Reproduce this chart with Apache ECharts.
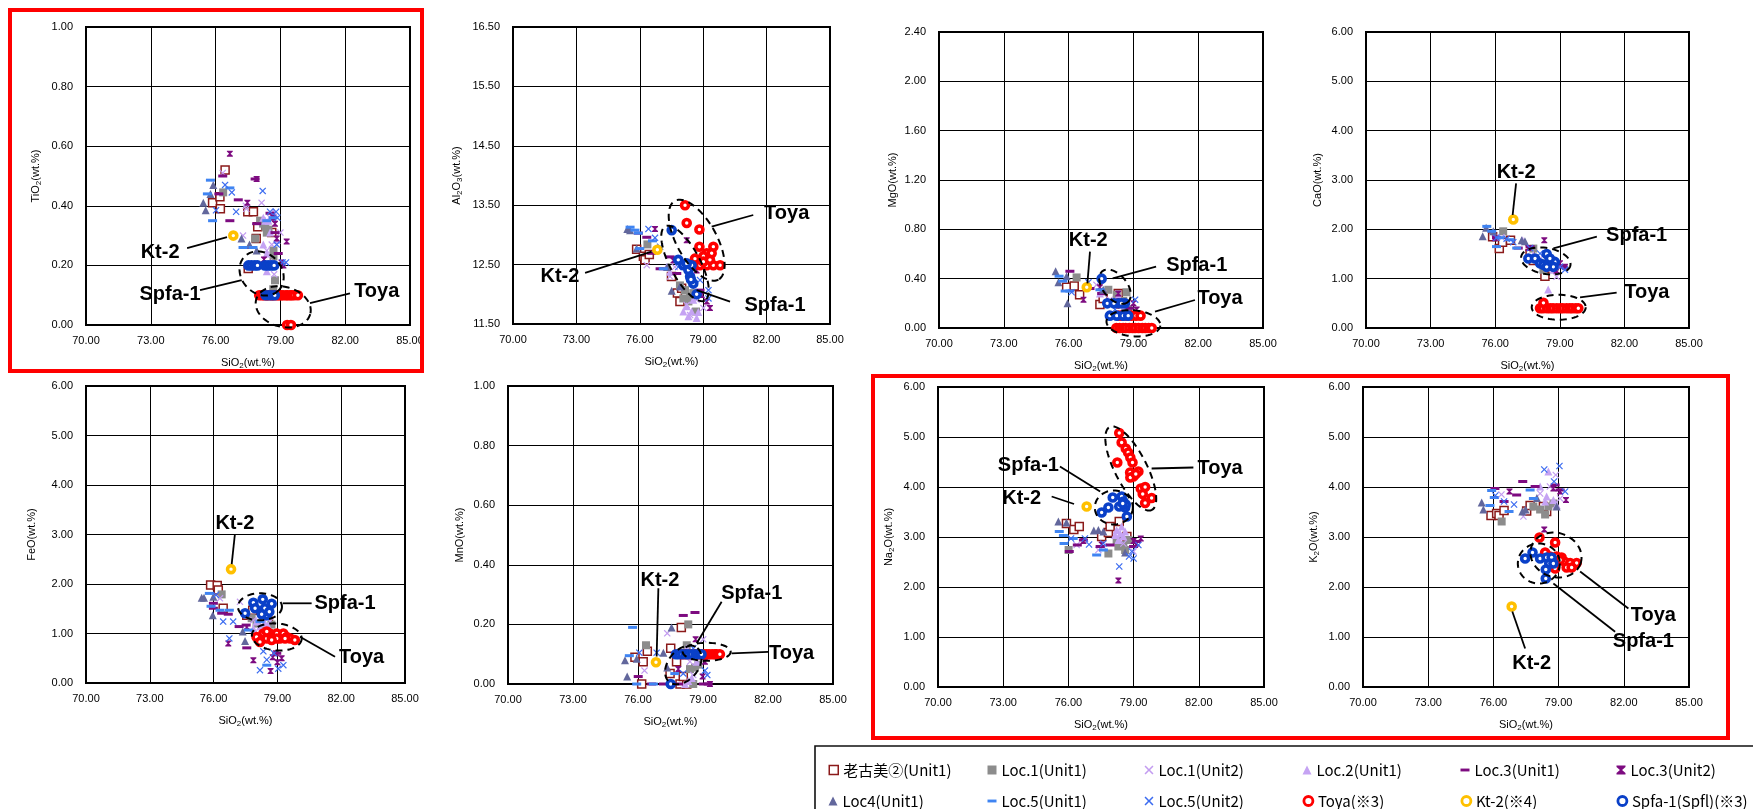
<!DOCTYPE html>
<html><head><meta charset="utf-8">
<script src="https://cdn.jsdelivr.net/npm/echarts@6/dist/echarts.min.js"></script>
<style>html,body{margin:0;padding:0;background:#fff}#c{width:1753px;height:809px}</style>
</head><body><div id="c"></div><script>
// ---------------- DATA (SiO2 wt.%, oxide wt.%) ----------------
// TiO2
const okomi_Ti=[[76.44,0.52],[75.86,0.41],[76.20,0.43],[76.22,0.39],[77.49,0.38],[77.75,0.38],[77.95,0.33],[78.60,0.31],[77.88,0.29],[77.51,0.19]];
const l1u1_Ti=[[76.35,0.445],[78.06,0.35],[78.30,0.33],[78.37,0.31],[77.83,0.29],[78.68,0.25],[78.68,0.23],[78.75,0.15],[78.67,0.12],[78.45,0.32],[78.20,0.34]];
const l1u2_Ti=[[76.33,0.51],[77.27,0.30],[77.42,0.39],[78.13,0.41],[78.52,0.36],[78.71,0.17],[78.60,0.27],[78.37,0.25],[79.00,0.31],[77.40,0.40]];
const l2u1_Ti=[[78.21,0.36],[78.45,0.35],[78.68,0.38],[78.37,0.24],[78.37,0.18],[78.60,0.21],[78.83,0.285],[78.52,0.31],[78.21,0.27],[78.30,0.35]];
const l3u1_Ti=[[76.33,0.50],[76.66,0.35],[77.05,0.42],[77.83,0.49],[78.52,0.375],[78.75,0.31],[78.90,0.24],[77.90,0.34],[77.35,0.26],[76.15,0.44]];
const l3u2_Ti=[[76.66,0.575],[77.90,0.49],[77.47,0.41],[78.67,0.36],[78.75,0.34],[79.05,0.21],[79.29,0.28],[78.24,0.22],[79.14,0.20],[78.83,0.29]];
const l4u1_Ti=[[75.43,0.41],[75.54,0.385],[75.89,0.47],[75.76,0.44],[77.20,0.29],[77.57,0.27],[77.90,0.25]];
const l5u1_Ti=[[75.76,0.486],[75.86,0.35],[75.62,0.44],[76.66,0.46],[77.27,0.26],[77.73,0.26],[78.37,0.35],[78.67,0.36]];
const l5u2_Ti=[[76.02,0.385],[76.44,0.47],[76.75,0.445],[76.95,0.38],[78.18,0.45],[78.52,0.38],[78.80,0.38],[78.83,0.27],[79.10,0.21],[79.26,0.21],[78.86,0.36]];
const toya_Ti=[[78.02,0.10],[78.15,0.10],[78.24,0.10],[78.36,0.10],[78.41,0.10],[78.55,0.10],[78.63,0.10],[78.72,0.10],[78.85,0.10],[78.93,0.10],[79.04,0.10],[79.12,0.10],[79.26,0.10],[79.33,0.10],[79.45,0.10],[79.52,0.10],[79.64,0.10],[79.81,0.10],[79.31,0.0],[79.49,0.0]];
const kt2_Ti=[[76.82,0.30]];
const spfa_Ti=[[77.52,0.20],[77.66,0.20],[77.81,0.20],[77.94,0.20],[78.28,0.20],[78.43,0.20],[78.57,0.20],[78.71,0.20],[78.31,0.10],[78.46,0.10],[78.60,0.10],[78.74,0.10]];
// Al2O3
const okomi_Al=[[75.85,12.76],[76.17,12.64],[76.25,12.58],[76.45,12.67],[77.78,12.02],[77.90,11.88],[77.98,12.10],[77.50,12.30]];
const l1u1_Al=[[76.36,12.84],[77.90,12.15],[78.14,12.07],[78.38,11.96],[78.66,11.71],[78.30,11.88],[78.53,12.02],[78.06,11.93]];
const l1u2_Al=[[76.33,12.49],[77.43,12.30],[77.66,12.46],[78.22,11.82],[78.69,11.91],[78.38,11.65],[79.01,11.77]];
const l2u1_Al=[[78.22,11.80],[78.45,11.71],[78.69,11.60],[78.06,11.71],[78.53,11.91],[78.30,11.63],[78.77,11.70],[77.27,12.46],[77.43,12.38]];
const l3u1_Al=[[76.33,12.96],[75.93,13.03],[76.96,12.43],[77.75,12.35],[77.43,12.63],[78.85,12.07],[76.56,12.69]];
const l3u2_Al=[[76.72,13.10],[78.22,12.91],[77.59,12.57],[78.69,12.40],[78.93,11.99],[79.32,11.77],[79.17,11.88]];
const l4u1_Al=[[75.41,13.10],[75.54,13.08],[75.85,12.77],[77.51,12.06],[77.90,12.13],[77.30,12.46]];
const l5u1_Al=[[75.54,13.13],[75.77,13.08],[75.93,13.03],[76.00,12.77],[77.11,12.43],[76.60,12.90]];
const l5u2_Al=[[76.41,13.10],[76.72,12.95],[76.96,12.80],[77.82,12.46],[78.38,12.35],[79.25,12.07],[79.25,11.93],[78.85,12.24]];
const toya_Al=[[78.14,13.50],[78.22,13.20],[78.82,13.09],[78.82,12.80],[79.48,12.80],[79.17,12.69],[79.01,12.64],[79.40,12.69],[78.61,12.60],[78.85,12.49],[79.17,12.49],[79.48,12.49],[79.80,12.49],[79.01,12.55],[79.32,12.58]];
const kt2_Al=[[76.83,12.75]];
const spfa_Al=[[77.51,13.08],[77.82,12.58],[78.06,12.49],[78.30,12.41],[78.38,12.30],[78.53,12.18],[78.69,12.00],[78.45,12.49],[78.22,12.52],[78.42,12.25]];
// MgO
const okomi_Mg=[[75.91,0.33],[76.26,0.34],[76.51,0.27],[77.45,0.19],[78.30,0.28],[77.60,0.24]];
const l1u1_Mg=[[76.37,0.41],[77.84,0.31],[78.23,0.27],[78.68,0.29],[78.76,0.15],[78.53,0.22]];
const l1u2_Mg=[[77.29,0.35],[77.91,0.23],[77.60,0.28],[78.53,0.16]];
const l2u1_Mg=[[77.45,0.28],[78.07,0.21],[78.30,0.26],[78.68,0.18]];
const l3u1_Mg=[[76.06,0.46],[76.99,0.32],[77.53,0.28],[78.23,0.21],[78.84,0.16]];
const l3u2_Mg=[[76.69,0.23],[77.45,0.33],[78.30,0.28],[79.00,0.20],[79.15,0.15]];
const l4u1_Mg=[[75.40,0.46],[75.53,0.37],[75.95,0.20],[75.91,0.42],[77.60,0.31]];
const l5u1_Mg=[[75.56,0.42],[75.73,0.38],[75.84,0.30],[76.06,0.30],[77.45,0.31]];
const l5u2_Mg=[[76.14,0.29],[76.92,0.37],[79.08,0.23],[78.15,0.15],[77.91,0.21]];
const toya_Mg=[[78.32,0.10],[78.47,0.10],[78.68,0.10],[78.91,0.10],[79.12,0.10],[79.33,0.10],[78.30,0.20],[78.21,0.0],[78.36,0.0],[78.52,0.0],[78.64,0.0],[78.81,0.0],[78.96,0.0],[79.08,0.0],[79.24,0.0],[79.41,0.0],[79.55,0.0],[79.71,0.0],[79.85,0.0]];
const kt2_Mg=[[76.84,0.33]];
const spfa_Mg=[[77.53,0.40],[77.79,0.20],[78.30,0.20],[78.61,0.20],[78.45,0.20],[77.91,0.10],[78.23,0.10],[78.53,0.10],[78.76,0.10],[78.10,0.20]];
// CaO
const okomi_Ca=[[75.88,1.85],[76.19,1.61],[76.34,1.74],[76.71,1.78],[77.62,1.51],[78.31,1.05],[77.77,1.37]];
const l1u1_Ca=[[76.37,1.96],[77.77,1.61],[78.24,1.18],[78.39,1.31],[78.77,1.24]];
const l1u2_Ca=[[76.29,1.84],[77.62,1.62],[78.08,1.41],[78.85,1.04],[78.70,1.24]];
const l2u1_Ca=[[77.27,1.78],[78.46,0.78],[77.77,1.48],[78.24,1.31],[78.70,1.18]];
const l3u1_Ca=[[76.06,1.83],[77.07,1.62],[77.62,1.65],[78.62,1.41],[79.16,1.24]];
const l3u2_Ca=[[75.98,1.82],[78.28,1.78],[77.54,1.62],[79.01,1.31],[79.24,1.24],[78.85,1.16]];
const l4u1_Ca=[[75.42,1.86],[75.58,2.03],[77.23,1.78],[77.38,1.76],[75.91,1.96]];
const l5u1_Ca=[[75.61,2.06],[75.84,1.96],[76.06,1.65],[76.22,1.83],[76.69,1.79],[77.00,1.62]];
const l5u2_Ca=[[76.06,1.83],[76.53,1.81],[76.84,1.74],[77.62,1.62],[79.24,1.18],[79.01,1.24],[78.08,1.51]];
const toya_Ca=[[78.08,0.40],[78.22,0.40],[78.41,0.40],[78.56,0.40],[78.69,0.40],[78.86,0.40],[79.02,0.40],[79.14,0.40],[79.31,0.40],[79.46,0.40],[79.58,0.40],[79.74,0.40],[79.86,0.40],[78.24,0.51]];
const kt2_Ca=[[76.84,2.20]];
const spfa_Ca=[[77.54,1.41],[77.85,1.41],[78.39,1.50],[78.08,1.31],[78.24,1.28],[78.46,1.31],[78.62,1.31],[78.77,1.34],[78.70,1.24],[78.39,1.24],[78.54,1.41]];
// FeO
const okomi_Fe=[[75.86,1.98],[76.17,1.97],[76.22,1.88],[76.45,1.51],[77.56,1.37],[77.84,1.47],[78.58,1.25]];
const l1u1_Fe=[[76.38,1.79],[78.02,1.20],[78.72,1.18],[78.34,1.10],[77.79,1.31]];
const l1u2_Fe=[[76.30,1.71],[77.24,1.64],[77.87,1.27],[78.34,1.21],[78.65,1.24]];
const l2u1_Fe=[[78.02,1.24],[78.18,1.14],[78.41,1.21],[77.87,1.10],[78.58,1.14]];
const l3u1_Fe=[[75.99,1.61],[75.99,1.51],[76.38,1.41],[76.69,1.39],[77.53,1.17],[77.56,0.71],[77.20,1.14],[78.97,0.60]];
const l3u2_Fe=[[76.69,0.80],[77.87,0.46],[78.68,0.24],[78.93,0.60],[79.20,0.50],[79.00,0.42],[78.78,0.52],[77.56,1.13]];
const l4u1_Fe=[[75.44,1.72],[75.55,1.72],[75.96,1.37],[77.37,1.04],[77.48,0.85],[75.99,1.74]];
const l5u1_Fe=[[75.80,1.81],[75.88,1.55],[76.30,1.47],[76.74,1.47],[77.64,1.07],[78.50,0.36],[78.18,1.24]];
const l5u2_Fe=[[76.11,1.78],[76.45,1.24],[76.92,1.24],[76.74,0.90],[78.34,0.64],[78.50,0.47],[78.18,0.26],[79.04,0.29],[79.28,0.36],[78.84,0.60]];
const toya_Fe=[[78.02,0.93],[78.18,0.83],[78.34,1.00],[78.50,0.90],[78.65,1.00],[78.81,0.93],[78.97,1.00],[79.12,0.90],[79.28,1.00],[79.44,0.93],[79.60,0.90],[79.82,0.87],[78.50,1.04],[78.97,0.90],[79.36,0.90],[78.73,0.87]];
const kt2_Fe=[[76.82,2.30]];
const spfa_Fe=[[77.48,1.41],[77.87,1.62],[77.95,1.51],[78.31,1.69],[78.41,1.51],[78.50,1.37],[78.73,1.60],[78.62,1.44],[78.26,1.39]];
// MnO
const okomi_Mn=[[78.00,0.19],[75.86,0.09],[76.43,0.11],[76.24,0.075],[76.17,0.0],[77.51,0.12],[77.78,0.075],[77.48,0.035],[77.94,0.0],[78.25,0.0],[78.09,0.025]];
const l1u1_Mn=[[76.37,0.13],[78.32,0.20],[78.40,0.05],[78.63,0.055],[78.55,0.0],[78.79,0.065],[78.25,0.13]];
const l1u2_Mn=[[77.35,0.17],[76.30,0.045],[78.40,0.075],[79.01,0.15],[78.55,0.03]];
const l2u1_Mn=[[78.25,0.12],[78.32,0.01],[78.48,0.02],[78.71,0.075],[78.17,0.0]];
const l3u1_Mn=[[78.09,0.23],[78.63,0.24],[76.01,0.025],[76.63,0.0],[77.17,0.0],[77.86,0.0],[79.01,0.0],[79.24,0.0]];
const l3u2_Mn=[[78.66,0.15],[77.86,0.05],[78.98,0.025],[79.09,0.075],[79.32,0.0]];
const l4u1_Mn=[[75.40,0.08],[75.50,0.025],[75.94,0.085],[77.17,0.105],[77.55,0.19],[77.35,0.055]];
const l5u1_Mn=[[75.75,0.19],[75.60,0.095],[76.71,0.0],[77.70,0.035],[75.94,0.0]];
const l5u2_Mn=[[76.06,0.105],[76.86,0.105],[78.09,0.035],[79.09,0.045],[79.20,0.03],[78.55,0.12]];
const toya_Mn=[[78.02,0.10],[78.18,0.10],[78.41,0.10],[78.62,0.10],[78.79,0.10],[78.93,0.10],[79.04,0.10],[79.16,0.10],[79.28,0.10],[79.42,0.10],[79.55,0.10],[79.63,0.10],[79.78,0.10]];
const kt2_Mn=[[76.83,0.073]];
const spfa_Mn=[[77.75,0.10],[77.88,0.10],[78.04,0.10],[78.21,0.10],[78.33,0.10],[78.49,0.10],[78.66,0.10],[78.80,0.10],[78.93,0.10],[77.51,0.0]];
// Na2O
const okomi_Na=[[75.91,3.27],[76.25,3.15],[76.50,3.21],[77.53,3.01],[77.84,3.09],[77.92,3.21],[78.34,3.31],[78.69,3.01]];
const l1u1_Na=[[76.01,2.74],[77.84,2.67],[78.30,2.81],[78.53,2.84],[78.76,2.94],[78.61,2.74],[78.22,2.94]];
const l1u2_Na=[[76.38,2.84],[77.38,2.74],[77.61,2.81],[78.53,2.87],[79.00,2.71]];
const l2u1_Na=[[78.22,3.14],[78.38,3.07],[78.45,3.21],[78.53,3.01],[78.30,2.94],[78.15,3.04],[78.61,3.11]];
const l3u1_Na=[[76.04,2.71],[76.41,2.84],[76.69,2.94],[77.46,2.81],[77.92,2.84],[79.00,2.81],[79.14,2.91]];
const l3u2_Na=[[76.69,2.92],[77.53,2.85],[78.30,2.13],[79.00,2.92],[79.33,2.97],[79.14,2.87]];
const l4u1_Na=[[75.54,3.31],[75.91,3.29],[77.17,3.13],[77.38,3.14],[78.61,2.69],[77.61,3.11]];
const l5u1_Na=[[75.58,3.11],[75.77,3.03],[75.80,2.87],[77.30,2.64],[77.61,2.74],[76.22,2.97]];
const l5u2_Na=[[76.12,2.97],[76.76,2.97],[76.95,2.85],[77.61,2.87],[78.34,2.41],[78.79,2.61],[79.00,2.57],[79.22,2.84],[78.92,2.71]];
const toya_Na=[[78.34,5.08],[78.45,4.89],[78.64,4.77],[78.75,4.69],[78.85,4.59],[78.95,4.49],[78.25,4.49],[78.84,4.29],[78.99,4.21],[79.22,4.31],[79.33,3.97],[79.53,4.00],[79.42,3.86],[79.83,3.78],[79.53,3.68],[78.85,4.19],[79.10,4.26]];
const kt2_Na=[[76.84,3.61]];
const spfa_Na=[[77.53,3.49],[77.84,3.59],[78.04,3.79],[78.45,3.81],[78.34,3.61],[78.53,3.71],[78.61,3.59],[78.69,3.41],[78.64,3.65],[78.50,3.67]];
// K2O
const okomi_K=[[75.89,3.43],[76.15,3.47],[76.26,3.43],[76.49,3.53],[77.53,3.52],[77.69,3.63],[78.45,3.51],[78.30,3.61]];
const l1u1_K=[[76.38,3.31],[78.38,3.45],[78.15,3.55],[78.53,3.61],[78.76,3.67],[77.84,3.61]];
const l1u2_K=[[76.37,3.85],[77.38,3.41],[78.87,4.24],[78.60,4.01],[78.15,3.87],[79.07,3.77]];
const l2u1_K=[[78.53,4.31],[78.15,4.01],[78.45,3.81],[78.76,3.74],[78.38,3.71],[78.91,3.64]];
const l3u1_K=[[76.07,3.97],[76.49,3.71],[77.07,3.84],[77.35,4.11],[77.92,4.01],[79.07,3.94],[78.84,4.04]];
const l3u2_K=[[76.74,3.91],[78.34,3.15],[79.07,3.91],[79.34,3.74],[78.76,3.97]];
const l4u1_K=[[75.46,3.69],[75.54,3.55],[77.33,3.51],[77.48,3.55],[78.00,3.78],[78.91,3.61]];
const l5u1_K=[[75.92,3.93],[76.04,3.79],[75.84,3.63],[77.69,3.94],[77.84,3.77],[76.72,3.51]];
const l5u2_K=[[76.09,3.83],[76.49,3.71],[76.95,3.65],[78.34,4.35],[79.04,4.42],[78.79,4.11],[79.30,3.91]];
const toya_K=[[78.12,2.99],[78.84,2.89],[78.38,2.69],[78.60,2.61],[78.91,2.61],[79.14,2.59],[79.30,2.50],[79.53,2.48],[79.83,2.48],[79.37,2.39],[79.60,2.39],[78.84,2.37],[79.07,2.54],[78.68,2.50]];
const kt2_K=[[76.84,1.61]];
const spfa_K=[[77.46,2.57],[77.80,2.69],[78.15,2.57],[78.45,2.59],[78.68,2.59],[78.57,2.47],[78.41,2.35],[78.41,2.17],[78.76,2.47]];

// axes
const X_TICKS = [70,73,76,79,82,85];
const Y_MIN  = [0, 11.5, 0, 0, 0, 0, 0, 0];
const Y_MAX  = [1, 16.5, 2.4, 6, 6, 1, 6, 6];
const Y_STEP = [0.2, 1, 0.4, 1, 1, 0.2, 1, 1];
const Y_NAMES = ['TiO{s|2}(wt.%)','Al{s|2}O{s|3}(wt.%)','MgO(wt.%)','CaO(wt.%)','FeO(wt.%)','MnO(wt.%)','Na{s|2}O(wt.%)','K{s|2}O(wt.%)'];
const X_NAME = 'SiO{s|2}(wt.%)';

// annotations (data coords): [panel, text, x, y]
const noteLabels = [
 [0,'Kt-2',73.43,0.242],[0,'Spfa-1',73.89,0.101],[0,'Toya',83.46,0.112],
 [1,'Toya',82.95,13.36],[1,'Spfa-1',82.40,11.82],[1,'Kt-2',72.22,12.30],
 [2,'Kt-2',76.91,0.708],[2,'Spfa-1',81.93,0.505],[2,'Toya',83.01,0.241],
 [3,'Kt-2',76.97,3.15],[3,'Spfa-1',82.57,1.885],[3,'Toya',83.04,0.716],
 [4,'Kt-2',77.0,3.23],[4,'Spfa-1',82.18,1.61],[4,'Toya',82.96,0.51],
 [5,'Kt-2',77.01,0.349],[5,'Spfa-1',81.25,0.304],[5,'Toya',83.09,0.103],
 [6,'Kt-2',73.85,3.77],[6,'Spfa-1',74.16,4.44],[6,'Toya',82.98,4.37],
 [7,'Kt-2',77.76,0.47],[7,'Spfa-1',82.90,0.906],[7,'Toya',83.36,1.44]
];
// [panel, x1, y1, x2, y2]
const noteLines = [
 [0,74.68,0.258,76.53,0.295],[0,75.28,0.117,77.21,0.151],[0,82.22,0.106,80.37,0.073],
 [1,81.37,13.335,79.40,13.14],[1,80.27,11.875,78.69,12.07],[1,73.41,12.36,76.56,12.72],
 [2,76.99,0.619,76.87,0.362],[2,80.05,0.497,78.04,0.403],[2,81.85,0.227,80.0,0.132],
 [3,76.97,2.93,76.81,2.29],[3,80.72,1.85,78.70,1.615],[3,81.64,0.716,79.94,0.62],
 [4,77.0,3.00,76.85,2.40],[4,80.61,1.61,79.25,1.61],[4,81.71,0.53,80.06,0.935],
 [5,76.94,0.321,76.86,0.092],[5,79.86,0.276,78.71,0.137],[5,82.01,0.108,80.32,0.103],
 [6,75.23,3.81,76.26,3.66],[6,75.61,4.41,77.46,3.91],[6,81.75,4.39,79.83,4.37],
 [7,77.46,0.77,76.87,1.51],[7,81.60,1.106,78.76,2.07],[7,82.21,1.57,79.99,2.31]
];
// [panel, cx, cy, rxPx, ryPx, rotationDeg]
const noteEllipses = [
 [0,78.13,0.173,24,20,45],[0,79.13,0.061,28,20,15],
 [1,78.69,12.91,45,20,61],[1,78.14,12.52,42,15,62],
 [2,78.15,0.335,20,12,50],[2,79.0,0.038,27,13,5],
 [3,78.35,1.36,25,13,10],[3,78.95,0.42,27,12.5,0],
 [4,78.18,1.54,22,13.5,0],[4,78.97,0.93,25,13.5,5],
 [5,78.09,0.064,22,15,-50],[5,79.17,0.108,24,9,0],
 [6,78.09,3.59,19,17,0],[6,78.87,4.37,46.5,16,63],
 [7,78.09,2.47,21,20,0],[7,78.88,2.64,26,22,20]
];

// ---------------- LAYOUT / STYLE ----------------
const GRIDS = [[86,27,324,298],[513,27,317,297],[939,32,324,296],[1366,32,323,296],
               [86,386,319,297],[508,386,325,298],[938,387,326,300],[1363,387,326,300]];
const YNAME_GAP = [43,49,39,41,47,41,42,42];
const X_PATH = 'path://M1.2,0L5,3.8L8.8,0L10,1.2L6.2,5L10,8.8L8.8,10L5,6.2L1.2,10L0,8.8L3.8,5L0,1.2Z';
const HOURGLASS = 'path://M0,0H10V1.6L6.2,5L10,8.4V10H0V8.4L3.8,5L0,1.6Z';
const DASH = 'path://M0,0H10V3.2H0Z';
const SERIES_STYLE = [
 {name:'老古美②(Unit1)', sym:'rect', size:8, fill:'#fff', border:'#8b1a1a', bw:1.5, lbw:1.5},
 {name:'Loc.1(Unit1)', sym:'rect', size:8, fill:'#8c8c8c'},
 {name:'Loc.1(Unit2)', sym:X_PATH, size:7, fill:'#c39cf0'},
 {name:'Loc.2(Unit1)', sym:'triangle', size:8, fill:'#c5a3f3'},
 {name:'Loc.3(Unit1)', sym:'rect', size:[9,3], fill:'#7d0b80', icon:DASH},
 {name:'Loc.3(Unit2)', sym:HOURGLASS, size:6, fill:'#7d0b80'},
 {name:'Loc4(Unit1)', sym:'triangle', size:8, fill:'#62679c'},
 {name:'Loc.5(Unit1)', sym:'rect', size:[9,3], fill:'#3f84f2', icon:DASH},
 {name:'Loc.5(Unit2)', sym:X_PATH, size:7, fill:'#3c6cf0'},
 {name:'Toya(※3)', sym:'circle', size:7, fill:'#fff', border:'#ff0000', bw:3.6, lbw:2.8},
 {name:'Kt-2(※4)', sym:'circle', size:7, fill:'#fff', border:'#ffc000', bw:3.6, lbw:2.8},
 {name:'Spfa-1(Spfl)(※3)', sym:'circle', size:7, fill:'#fff', border:'#0a40c8', bw:3.6, lbw:2.8}
];
const SERIES_DATA = [
 [okomi_Ti,okomi_Al,okomi_Mg,okomi_Ca,okomi_Fe,okomi_Mn,okomi_Na,okomi_K],
 [l1u1_Ti,l1u1_Al,l1u1_Mg,l1u1_Ca,l1u1_Fe,l1u1_Mn,l1u1_Na,l1u1_K],
 [l1u2_Ti,l1u2_Al,l1u2_Mg,l1u2_Ca,l1u2_Fe,l1u2_Mn,l1u2_Na,l1u2_K],
 [l2u1_Ti,l2u1_Al,l2u1_Mg,l2u1_Ca,l2u1_Fe,l2u1_Mn,l2u1_Na,l2u1_K],
 [l3u1_Ti,l3u1_Al,l3u1_Mg,l3u1_Ca,l3u1_Fe,l3u1_Mn,l3u1_Na,l3u1_K],
 [l3u2_Ti,l3u2_Al,l3u2_Mg,l3u2_Ca,l3u2_Fe,l3u2_Mn,l3u2_Na,l3u2_K],
 [l4u1_Ti,l4u1_Al,l4u1_Mg,l4u1_Ca,l4u1_Fe,l4u1_Mn,l4u1_Na,l4u1_K],
 [l5u1_Ti,l5u1_Al,l5u1_Mg,l5u1_Ca,l5u1_Fe,l5u1_Mn,l5u1_Na,l5u1_K],
 [l5u2_Ti,l5u2_Al,l5u2_Mg,l5u2_Ca,l5u2_Fe,l5u2_Mn,l5u2_Na,l5u2_K],
 [toya_Ti,toya_Al,toya_Mg,toya_Ca,toya_Fe,toya_Mn,toya_Na,toya_K],
 [kt2_Ti,kt2_Al,kt2_Mg,kt2_Ca,kt2_Fe,kt2_Mn,kt2_Na,kt2_K],
 [spfa_Ti,spfa_Al,spfa_Mg,spfa_Ca,spfa_Fe,spfa_Mn,spfa_Na,spfa_K]
];
const LEG_COLS = [833, 992, 1149, 1307, 1465, 1621];
const LEG_ROWS = [767, 798];

const nameStyle = {fontSize:11, color:'#000', fontFamily:'"Liberation Sans", Arial, sans-serif', lineHeight:14,
  rich:{s:{fontSize:8, lineHeight:8, verticalAlign:'bottom', color:'#000', fontFamily:'"Liberation Sans", Arial, sans-serif'}}};
const tickFont = {fontSize:11, color:'#000', fontFamily:'"Liberation Sans", Arial, sans-serif'};

const grid = GRIDS.map(g => ({left:g[0], top:g[1], width:g[2], height:g[3], show:true, borderColor:'#000', borderWidth:2, backgroundColor:'#fff'}));
const xAxis = GRIDS.map((g,i) => ({type:'value', gridIndex:i, min:X_TICKS[0], max:X_TICKS[X_TICKS.length-1], interval:X_TICKS[1]-X_TICKS[0],
  name:X_NAME, nameLocation:'middle', nameGap:31, nameTextStyle:nameStyle,
  axisLine:{show:true, onZero:false, lineStyle:{color:'#000', width:2}}, axisTick:{show:false},
  axisLabel:Object.assign({margin:10, formatter:v=>v.toFixed(2), showMaxLabel:true, showMinLabel:true}, tickFont),
  splitLine:{show:true, lineStyle:{color:'#000', width:1}}}));
const yAxis = GRIDS.map((g,i) => ({type:'value', gridIndex:i, min:Y_MIN[i], max:Y_MAX[i], interval:Y_STEP[i],
  name:Y_NAMES[i], nameLocation:'middle', nameGap:YNAME_GAP[i], nameRotate:90, nameTextStyle:nameStyle,
  axisLine:{show:true, onZero:false, lineStyle:{color:'#000', width:2}}, axisTick:{show:false},
  axisLabel:Object.assign({margin:13, formatter:v=>v.toFixed(2)}, tickFont),
  splitLine:{show:true, lineStyle:{color:'#000', width:1}}}));

const series = [];
for (let p = 0; p < 8; p++) {
  SERIES_STYLE.forEach((s, k) => {
    series.push({type:'scatter', name:s.name, xAxisIndex:p, yAxisIndex:p, data:SERIES_DATA[k][p],
      symbol:s.sym, symbolSize:s.size, silent:true,
      itemStyle:{color:s.fill, borderColor:s.border || s.fill, borderWidth:s.bw || 0, opacity:1}});
  });
}
const legend = SERIES_STYLE.map((s, k) => {
  const L = {
    data:[s.name], left:LEG_COLS[k % 6] - 4.5, top:LEG_ROWS[Math.floor(k / 6)] - 4.5,
    itemWidth:9, itemHeight:9, itemGap:0, padding:0, selectedMode:false, icon:s.icon,
    textStyle:{fontSize:15, color:'#000', fontFamily:'"Noto Sans CJK JP", sans-serif', padding:[0,0,0,0]}
  };
  if (s.lbw) L.itemStyle = {borderWidth:s.lbw, borderColor:s.border, color:'#fff'};
  return L;
});

const chart = echarts.init(document.getElementById('c'), null, {renderer:'canvas'});
chart.setOption({backgroundColor:'#fff', animation:false, grid, xAxis, yAxis, series, legend});

// ---------------- ANNOTATIONS ----------------
const px = (p, x, y) => chart.convertToPixel({gridIndex:p}, [x, y]);
const graphic = [];
graphic.push({type:'rect', z:50, shape:{x:10, y:10, width:412, height:361}, style:{fill:'none', stroke:'#ff0000', lineWidth:4}});
graphic.push({type:'rect', z:50, shape:{x:873, y:376, width:855, height:362}, style:{fill:'none', stroke:'#ff0000', lineWidth:4}});
graphic.push({type:'rect', z:50, shape:{x:815, y:746, width:1000, height:200}, style:{fill:'none', stroke:'#111', lineWidth:1.6}});
noteEllipses.forEach(e => {
  const c = px(e[0], e[1], e[2]);
  const th = e[5] * Math.PI / 180, pts = [];
  for (let i = 0; i < 72; i++) {
    const t = i / 72 * Math.PI * 2;
    pts.push([c[0] + e[3]*Math.cos(t)*Math.cos(th) - e[4]*Math.sin(t)*Math.sin(th),
              c[1] + e[3]*Math.cos(t)*Math.sin(th) + e[4]*Math.sin(t)*Math.cos(th)]);
  }
  graphic.push({type:'polygon', z:60, silent:true, shape:{points:pts}, style:{fill:'none', stroke:'#000', lineWidth:2, lineDash:[7,5]}});
});
noteLines.forEach(l => {
  const a = px(l[0], l[1], l[2]), b = px(l[0], l[3], l[4]);
  graphic.push({type:'line', z:60, silent:true, shape:{x1:a[0], y1:a[1], x2:b[0], y2:b[1]}, style:{stroke:'#000', lineWidth:1.8}});
});
noteLabels.forEach(t => {
  const a = px(t[0], t[2], t[3]);
  graphic.push({type:'text', z:61, silent:true, x:a[0], y:a[1],
    style:{text:t[1], font:'bold 20px "Liberation Sans", Arial, sans-serif', fill:'#000',
      align:'center', verticalAlign:'middle', textAlign:'center', textVerticalAlign:'middle'}});
});
chart.setOption({graphic});
</script></body></html>
